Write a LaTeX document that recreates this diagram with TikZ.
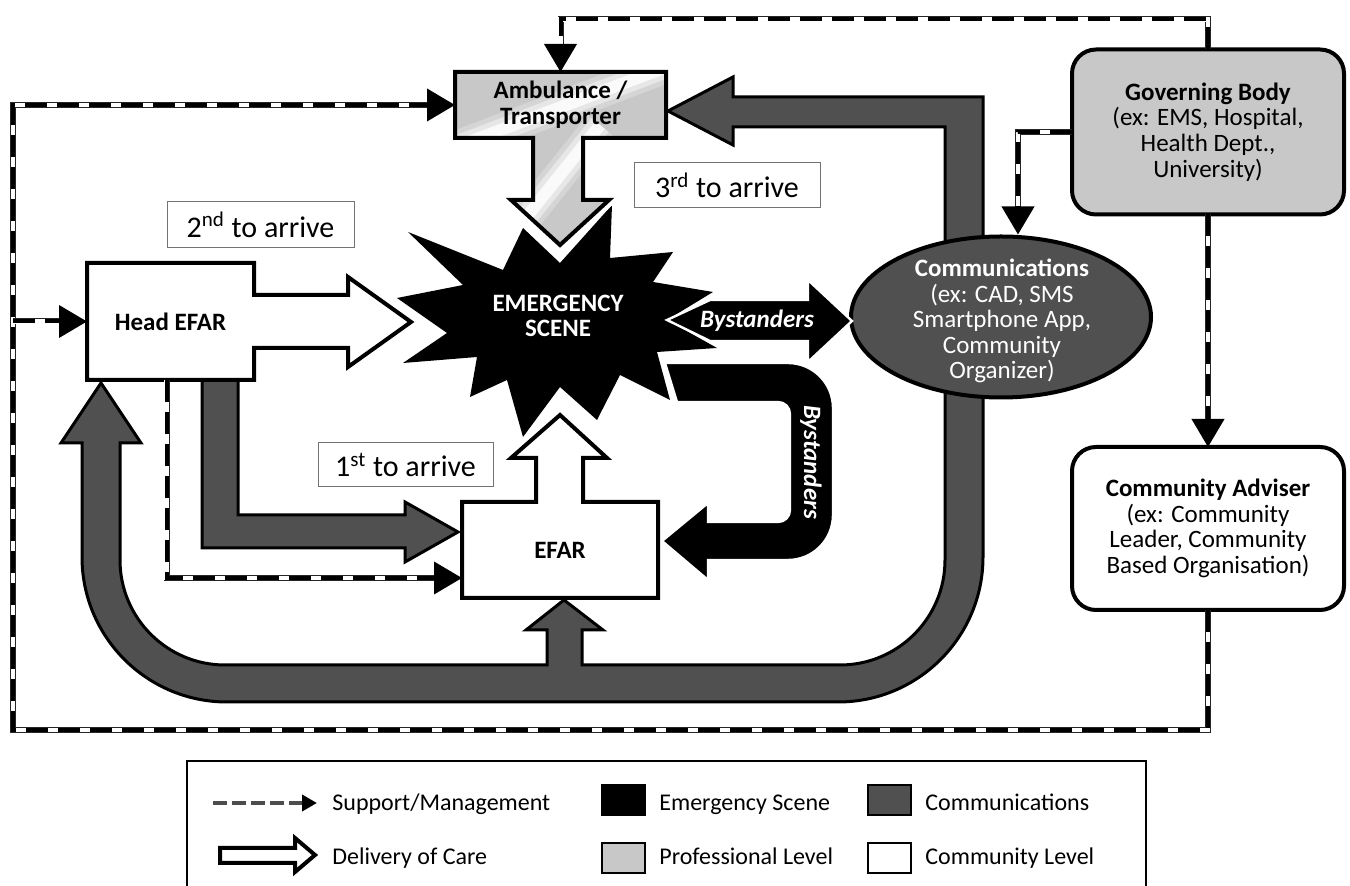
\documentclass[tikz,border=0pt]{standalone}
\usepackage{fontspec}
\setmainfont{Carlito}
\usetikzlibrary{arrows.meta,shapes.geometric}
\definecolor{dgray}{RGB}{80,80,80}
\definecolor{lgray}{RGB}{200,200,200}
\tikzset{
  txt/.style={font=\fontsize{12.5}{12.8}\selectfont, align=center, inner sep=0pt, outer sep=0pt},
  btxt/.style={txt, font=\fontsize{12.5}{12.8}\selectfont\bfseries},
  itxt/.style={txt, font=\fontsize{12.5}{12.8}\selectfont\bfseries\itshape, text=white},
  arrive/.style={draw=black!55, line width=0.5pt, fill=white, inner sep=0pt, font=\fontsize{15}{18}\selectfont},
  orgbox/.style={draw, line width=2pt, rounded corners=12pt, minimum width=136pt, txt},
  care/.style={fill=white, line width=2pt},
  comms/.style={fill=dgray, line width=1.5pt},
  halo/.style={white, line width=6pt},
  support/.style={line width=2pt, dash pattern=on 11pt off 5pt, -{Triangle[length=14pt,width=16pt]},
    preaction={draw=black!85, solid, -, shorten >=7pt, line width=3pt},
    preaction={draw=white, solid, -, shorten >=7pt, line width=2.1pt}},
  keytxt/.style={font=\fontsize{12}{14}\selectfont, inner sep=0pt, anchor=base west},
  keydash/.style={line width=2pt, draw=black!70, dash pattern=on 7pt off 2.5pt, -{Triangle[length=7.5pt,width=8pt,color=black]}}
}
\begin{document}
\begin{tikzpicture}[x=0.5pt,y=-0.5pt]
\useasboundingbox (0,0) rectangle (1350,886);
\filldraw[comms] (983,385) -- (983,557) arc[start angle=0, end angle=90, radius=145] -- (227,702) arc[start angle=90, end angle=180, radius=145] -- (82,443) -- (61,443) -- (101,383) -- (141,443) -- (120,443) -- (120,560) arc[start angle=180, end angle=90, radius=105] -- (547,665) -- (547,630) -- (526,630) -- (564,600) -- (603,630) -- (582,630) -- (582,665) -- (840,665) arc[start angle=90, end angle=0, radius=105] -- (945,385) -- cycle; %
\filldraw[comms] (983,260) -- (983,97) -- (733,97) -- (733,77) -- (668,111) -- (733,145) -- (733,127) -- (945,127) -- (945,260) -- cycle; %
\filldraw[comms] (202,380) -- (202,548) -- (405,548) -- (405,562) -- (458,532) -- (405,502) -- (405,515) -- (238,515) -- (238,380) -- cycle; %
\draw (1001,317) node[ellipse, draw, line width=2pt, fill=dgray, minimum width=150pt, minimum height=80.5pt, inner sep=0pt] (comm) {};
\draw (1002,321) node[txt, text=white] (commtxt) {{\bfseries Communications}\\(ex: CAD, SMS\\Smartphone App,\\Community\\Organizer)};
\fill[black] (397,298) -- (463,285) -- (408,232) -- (503,270) -- (523,228) -- (560,263) -- (612,205) -- (610,258) -- (673,252) -- (653,282) -- (713,292) -- (667,320) -- (717,348) -- (657,352) -- (670,400) -- (620,375) -- (597,420) -- (560,387) -- (523,437) -- (507,380) -- (470,397) -- (477,357) -- (403,363) -- (447,333) -- cycle; %
\draw (558,316) node[btxt, text=white] (scene) {EMERGENCY\\SCENE};
\filldraw[fill=black, draw=white, line width=1.2pt] (667,320) -- (710,300) -- (808,300) -- (808,280) -- (852,321) -- (808,362) -- (808,341) -- (710,341) -- cycle; %
\filldraw[fill=black, draw=white, line width=1.2pt] (665,363) -- (788,363) arc[start angle=-90, end angle=0, radius=45] -- (833,515) arc[start angle=0, end angle=90, radius=45] -- (708,560) -- (708,580) -- (662,541) -- (708,503) -- (708,522) -- (778,522) arc[start angle=90, end angle=0, radius=12] -- (790,414) arc[start angle=0, end angle=-90, radius=12] -- (677,402) -- cycle; %
\draw (757,321) node[itxt] (byst) {Bystanders};
\draw (811,462) node[itxt, rotate=-90] (bystloop) {Bystanders};
\draw[halo] (511,200) -- (560,245) -- (609,200); %
\draw[halo] (348,277) -- (411,322) -- (348,367); %
\draw[halo] (511,458) -- (560,415) -- (607,458); %
\begin{scope}
\clip (455,72) -- (666,72) -- (666,138) -- (583,138) -- (583,200) -- (609,200) -- (560,245) -- (511,200) -- (533,200) -- (533,138) -- (455,138) -- cycle; %
\fill[lgray] (450,60) rectangle (670,250); %
\foreach \w/\o in {16/.25,11/.45,6/.8}
{
	\draw[white, line width=\w pt, opacity=\o] (440,153) -- (690,58); %
	\draw[white, line width=\w pt, opacity=\o] (500,250) -- (600,125); %
}
\end{scope}
\draw[line width=2pt] (455,72) -- (666,72) -- (666,138) -- (583,138) -- (583,200) -- (609,200) -- (560,245) -- (511,200) -- (533,200) -- (533,138) -- (455,138) -- cycle; %
\filldraw[care] (87,263) -- (254,263) -- (254,295) -- (348,295) -- (348,277) -- (411,322) -- (348,367) -- (348,348) -- (254,348) -- (254,380) -- (87,380) -- cycle; %
\filldraw[care] (462,598) -- (462,502) -- (536,502) -- (536,458) -- (511,458) -- (560,415) -- (607,458) -- (583,458) -- (583,502) -- (658,502) -- (658,598) -- cycle; %
\draw (560.5,105) node[btxt, minimum width=105.5pt, minimum height=33pt] (amb) {Ambulance /\\Transporter};
\draw (170.5,321.5) node[btxt, minimum width=83.5pt, minimum height=58.5pt] (head) {Head EFAR};
\draw (560,550) node[btxt, minimum width=98pt, minimum height=48pt] (efar) {EFAR};
\draw (1208,132) node[orgbox, fill=lgray, minimum height=82.5pt] (gov) {{\bfseries Governing Body}\\(ex: EMS, Hospital,\\Health Dept.,\\University)};
\draw (1208,528.5) node[orgbox, fill=white, minimum height=81.5pt] (adv) {{\bfseries Community Adviser}\\(ex: Community\\Leader, Community\\Based Organisation)};
\draw (405.5,465) node[arrive, minimum width=87.5pt, minimum height=22pt] (first) {1\textsuperscript{st} to arrive};
\draw (260.5,225) node[arrive, minimum width=93.5pt, minimum height=23pt] (second) {2\textsuperscript{nd} to arrive};
\draw (727,185.5) node[arrive, minimum width=93pt, minimum height=22.5pt] (third) {3\textsuperscript{rd} to arrive};
\draw[support] (gov.north) -- ++(0,-30) -| (amb.north);
\draw[support] (adv.south) |- (13,730) |- (amb.west);
\draw[support] (13,321.5) -- (head.west);
\draw[support] (gov.west) -| ([xshift=8.5pt]comm.north);
\draw[support] (gov.south) -- (adv.north);
\draw[support] ([xshift=-2pt]head.south) |- ([yshift=-14pt]efar.west);
\draw[line width=1pt] (187,761) rectangle (1146,900);
\draw[keydash] (213,803) -- (317,803);
\filldraw[care] (220,848) -- (295,848) -- (295,838) -- (315,855) -- (295,872) -- (295,863) -- (220,863) -- cycle; %
\draw (332,811) node[keytxt] (keysup) {Support/Management};
\draw (332,865) node[keytxt] (keycare) {Delivery of Care};
\foreach \c/\x/\y/\b/\t [count=\i] in {black/602/785/811/Emergency Scene, dgray/868/785/811/Communications, lgray/602/843/865/Professional Level, white/868/843/865/Community Level}
{
	\filldraw[fill=\c, line width=1.3pt] (\x,\y) rectangle ++(43,30); %
	\draw (\x+57,\b) node[keytxt] (key\i) {\t};
}
\end{tikzpicture}
\end{document}
